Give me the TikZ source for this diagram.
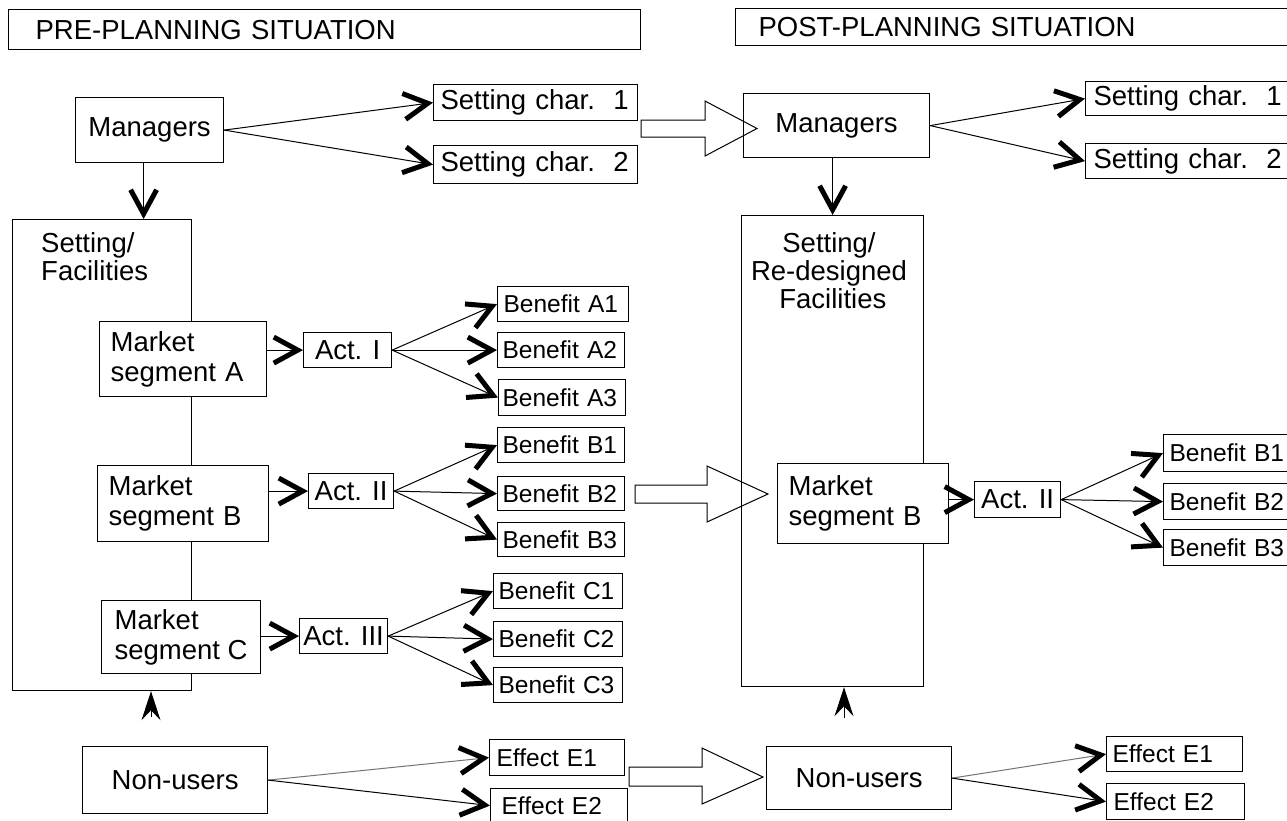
\documentclass[tikz,border=0pt]{standalone}
\usepackage{fontspec}
\setmainfont{Liberation Sans}
\usetikzlibrary{arrows.meta}

\tikzset{
  box/.style={draw, line width=1.2pt, fill=white, inner sep=0pt, anchor=north west,
              font=\fontsize{27.5}{30}\selectfont},
  small/.style={font=\fontsize{24.5}{28}\selectfont},
  frame/.style={draw, line width=1.2pt, inner sep=0pt, anchor=north west},
  conn/.style={line width=1pt, -{Straight Barb[length=24pt,width=26pt,line width=5pt,color=black]}},
  uparrow/.style={line width=1pt, -{Stealth[length=29pt,width=19pt,inset=10pt]}},
  blockarrow/.style={draw, line width=1pt, line join=miter},
  label/.style={inner sep=0pt, font=\fontsize{27.5}{28}\selectfont}
}

\begin{document}
\begin{tikzpicture}[x=1pt, y=-1pt]
\useasboundingbox (0,0) rectangle (1287,820);
\clip (0,0) rectangle (1287,820);

% ---------------- before planning ----------------
\node[box, minimum width=632, minimum height=40, text width=578, align=left] (titleL) at (8,9) {PRE-PLANNING SITUATION};

\node[box, minimum width=148, minimum height=65] (mgrL) at (75,97) {Managers};
\node[box, minimum width=204, minimum height=36, text width=190, align=left] (sc1L) at (433,84) {Setting char.\ \ 1};
\node[box, minimum width=204, minimum height=38, text width=190, align=left] (sc2L) at (433,145) {Setting char.\ \ 2};

\node[frame, minimum width=179, minimum height=471] (setL) at (12,219) {};
\node[label, anchor=north west, align=left] (setLtxt) at (41,232) {Setting/\\Facilities};

\node[box, minimum width=167, minimum height=75, text width=145, align=left] (mA) at (99,321) {Market\\segment A};
\node[box, minimum width=171, minimum height=76, text width=149, align=left] (mB) at (97,465) {Market\\segment B};
\node[box, minimum width=159, minimum height=73, align=left] (mC) at (101,600) {Market\\segment C};

\node[box, minimum width=88, minimum height=35] (actI) at (303,332) {Act. I};
\node[box, minimum width=85, minimum height=35] (actII) at (308,473) {Act. II};
\node[box, minimum width=88, minimum height=35] (actIII) at (299,618) {Act. III};

\node[box, small, minimum width=131, minimum height=35, text width=119, align=left] (bA1) at (497,286) {Benefit A1};
\node[box, small, minimum width=127, minimum height=35, text width=117, align=left] (bA2) at (497,332) {Benefit A2};
\node[box, small, minimum width=127, minimum height=36, text width=119, align=left] (bA3) at (498,379) {Benefit A3};
\node[box, small, minimum width=127, minimum height=35, text width=117, align=left] (bB1) at (497,427) {Benefit B1};
\node[box, small, minimum width=127, minimum height=34, text width=117, align=left] (bB2) at (497,476) {Benefit B2};
\node[box, small, minimum width=127, minimum height=34, text width=117, align=left] (bB3) at (497,522) {Benefit B3};
\node[box, small, minimum width=129, minimum height=35, text width=119, align=left] (bC1) at (493,573) {Benefit C1};
\node[box, small, minimum width=129, minimum height=35, text width=119, align=left] (bC2) at (493,621) {Benefit C2};
\node[box, small, minimum width=129, minimum height=35, text width=119, align=left] (bC3) at (493,667) {Benefit C3};

\node[box, minimum width=185, minimum height=67] (nuL) at (82,746) {Non-users};
\node[box, small, minimum width=135, minimum height=36, text width=121, align=left] (e1L) at (489,739) {Effect E1};
\node[box, small, minimum width=137, minimum height=34, text width=115, align=left] (e2L) at (490,788) {Effect E2};

% connectors, left half
\draw[conn] (mgrL.east) -- (sc1L.west);
\draw[conn] (mgrL.east) -- (sc2L.west);
\draw[conn] ([xshift=-6pt]mgrL.south) -- ([xshift=-6pt]mgrL.south |- setL.north);

\draw[conn] (actI.west -| mA.east) -- (actI.west);
\draw[conn] (actII.west -| mB.east) -- (actII.west);
\draw[conn] (actIII.west -| mC.east) -- (actIII.west);

\foreach \b in {bA1,bA2,bA3} \draw[conn] (actI.east) -- (\b.west);
\foreach \b in {bB1,bB2,bB3} \draw[conn] (actII.east) -- (\b.west);
\foreach \b in {bC1,bC2,bC3} \draw[conn] (actIII.east) -- (\b.west);

\draw[conn, draw=black!55] (nuL.east) -- (e1L.west);
\draw[conn] (nuL.east) -- (e2L.west);

\coordinate (upL) at (151,717);
\draw[uparrow] (upL) -- (upL |- setL.south);

% ---------------- after planning ----------------
\node[box, minimum width=600, minimum height=37, text width=554, align=left] (titleR) at (735,8) {POST-PLANNING SITUATION};

\node[box, minimum width=186, minimum height=64] (mgrR) at (743,93) {Managers};
\node[box, minimum width=250, minimum height=34, text width=234, align=left] (sc1R) at (1085,81) {Setting char.\ \ 1};
\node[box, minimum width=250, minimum height=35, text width=234, align=left] (sc2R) at (1085,143) {Setting char.\ \ 2};

\node[frame, minimum width=182, minimum height=471] (setR) at (741,215) {};
\node[label, anchor=north, align=center] (setRtxt) at (829,232) {Setting/\\Re-designed\\\ Facilities};

\node[box, minimum width=171, minimum height=80, text width=149, align=left] (mBR) at (777,463) {Market\\segment B};
\node[box, minimum width=86, minimum height=36] (actIIR) at (974,481) {Act. II};

\node[box, small, minimum width=200, minimum height=37, text width=188, align=left] (bB1R) at (1163,434) {Benefit B1};
\node[box, small, minimum width=200, minimum height=36, text width=188, align=left] (bB2R) at (1163,483) {Benefit B2};
\node[box, small, minimum width=200, minimum height=36, text width=188, align=left] (bB3R) at (1163,529) {Benefit B3};

\node[box, minimum width=185, minimum height=63] (nuR) at (766,746) {Non-users};
\node[box, small, minimum width=136, minimum height=35, text width=124, align=left] (e1R) at (1106,736) {Effect E1};
\node[box, small, minimum width=138, minimum height=36, text width=124, align=left] (e2R) at (1106,783) {Effect E2};

% connectors, right half
\draw[conn] (mgrR.east) -- (sc1R.west);
\draw[conn] (mgrR.east) -- (sc2R.west);
\draw[conn] ([xshift=-4pt]mgrR.south) -- ([xshift=-4pt]mgrR.south |- setR.north);

\draw[conn] (actIIR.west -| mBR.east) -- (actIIR.west);
\foreach \b in {bB1R,bB2R,bB3R} \draw[conn] (actIIR.east) -- (\b.west);

\draw[conn, draw=black!55] (nuR.east) -- (e1R.west);
\draw[conn] (nuR.east) -- (e2R.west);

\coordinate (upR) at (844,718);
\draw[uparrow] (upR) -- (upR |- setR.south);

% ---------------- hollow transition arrows ----------------
\draw[blockarrow] (641,120) -- (705,120) -- (705,101) -- (757,128.5) -- (705,156) -- (705,137) -- (641,137) -- cycle;
\draw[blockarrow] (635,485) -- (707,485) -- (707,466) -- (768,494) -- (707,522) -- (707,503) -- (635,503) -- cycle;
\draw[blockarrow] (629,767) -- (702,767) -- (702,748) -- (763,777) -- (702,804) -- (702,786) -- (629,786) -- cycle;

\end{tikzpicture}
\end{document}
